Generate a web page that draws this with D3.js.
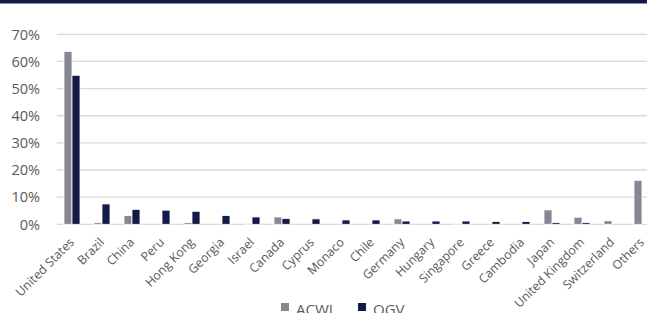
<!DOCTYPE html>
<html>
<head>
<meta charset="utf-8">
<script src="https://cdn.jsdelivr.net/npm/d3@7"></script>
<style>
  html, body { margin: 0; padding: 0; background: #fff; overflow: hidden; }
  svg { display: block; }
</style>
</head>
<body>
<svg id="chart"></svg>
<script>
// data (shares, %)
const countries = ["United States", "Brazil", "China", "Peru", "Hong Kong", "Georgia", "Israel",
  "Canada", "Cyprus", "Monaco", "Chile", "Germany", "Hungary", "Singapore", "Greece",
  "Cambodia", "Japan", "United Kingdom", "Switzerland", "Others"];
const seriesNames = ["ACWI", "QGV"];
const acwi = [63.7, 0.6, 3.2, 0, 0.6, 0, 0.1, 2.7, 0, 0, 0, 2.0, 0, 0.3, 0, 0, 5.3, 2.6, 1.3, 16.2];
const qgv  = [54.9, 7.5, 5.5, 5.2, 4.8, 3.2, 2.7, 2.1, 2.0, 1.6, 1.6, 1.2, 1.2, 1.2, 1.0, 1.0, 0.6, 0.6, 0, 0];
const yTicks = [0, 10, 20, 30, 40, 50, 60, 70];

const W = 647, H = 313;
const colors = { ACWI: "#878793", QGV: "#141a47" };
const textColor = "#595959";

const svg = d3.select("#chart").attr("width", W).attr("height", H);

// navy strip at the very top
svg.append("rect")
  .attr("x", 0).attr("y", 0)
  .attr("width", W).attr("height", 3.5)
  .attr("fill", "#141a4a");

const rows = countries.map((c, i) => ({ country: c, ACWI: acwi[i], QGV: qgv[i] }));

const x = d3.scaleBand()
  .domain(countries)
  .range([57, 657])
  .paddingInner(0.4667)
  .paddingOuter(0.2333);

const xs = d3.scaleBand()
  .domain(seriesNames)
  .range([0, x.bandwidth()]);

const y = d3.scaleLinear()
  .domain([0, 70])
  .range([224.3, 34.3]);

// gridlines
svg.append("g")
  .selectAll("line")
  .data(yTicks)
  .enter()
  .append("line")
  .attr("x1", 57).attr("x2", W)
  .attr("y1", d => y(d)).attr("y2", d => y(d))
  .attr("stroke", "#d9d9d9")
  .attr("stroke-width", 1.3);

// y labels
svg.append("g")
  .selectAll("text")
  .data(yTicks)
  .enter()
  .append("text")
  .attr("x", 40)
  .attr("y", d => y(d))
  .attr("dy", "0.36em")
  .attr("text-anchor", "end")
  .style("font-family", "'Open Sans', sans-serif")
  .style("font-size", "14.5px")
  .style("fill", textColor)
  .text(d => d + "%");

// bars
const groups = svg.append("g")
  .selectAll("g")
  .data(rows)
  .enter()
  .append("g")
  .attr("transform", d => `translate(${x(d.country)},0)`);

groups.selectAll("rect")
  .data(d => seriesNames.map(s => ({ key: s, value: d[s] })))
  .enter()
  .append("rect")
  .attr("x", d => xs(d.key))
  .attr("width", xs.bandwidth())
  .attr("y", d => y(d.value))
  .attr("height", d => y(0) - y(d.value))
  .attr("fill", d => colors[d.key])
  .attr("stroke", "#fff")
  .attr("stroke-width", 0.8);

// category labels, rotated
svg.append("g")
  .selectAll("text")
  .data(countries)
  .enter()
  .append("text")
  .attr("text-anchor", "end")
  .attr("transform", d => `translate(${x(d) + x.bandwidth() / 2 + 3},243) rotate(-45)`)
  .style("font-family", "'Open Sans', sans-serif")
  .style("font-size", "12.3px")
  .style("fill", textColor)
  .text(d => d);

// legend
const legendX = [281, 358];
const legend = svg.append("g")
  .selectAll("g")
  .data(seriesNames)
  .enter()
  .append("g")
  .attr("transform", (d, i) => `translate(${legendX[i]},303)`);

legend.append("rect")
  .attr("width", 8).attr("height", 8)
  .attr("fill", d => colors[d]);

legend.append("text")
  .attr("x", 15)
  .attr("y", 11.5)
  .style("font-family", "'Open Sans', sans-serif")
  .style("font-size", "15px")
  .style("fill", textColor)
  .text(d => d);
</script>
</body>
</html>
